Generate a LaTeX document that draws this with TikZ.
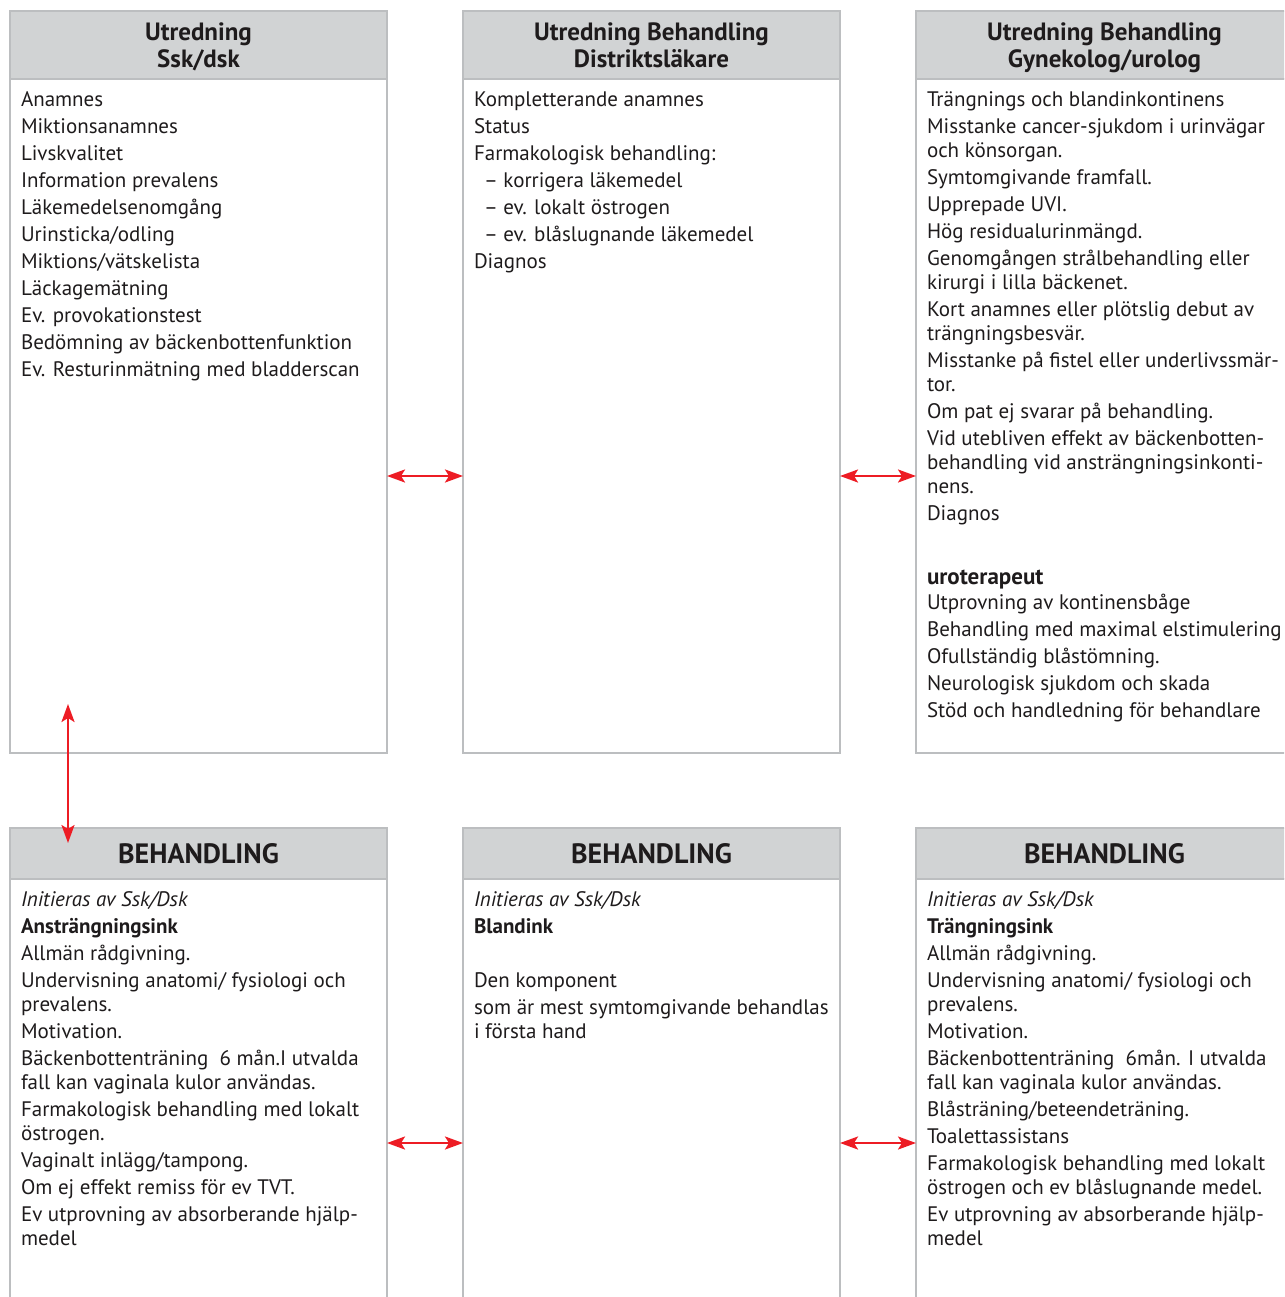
\documentclass[tikz,border=0pt]{standalone}
\usepackage{fontspec}
\setmainfont{PT Sans}
\usetikzlibrary{arrows.meta,positioning}
\definecolor{frame}{RGB}{188,190,192}
\definecolor{headfill}{RGB}{209,211,212}
\definecolor{redarrow}{RGB}{237,28,36}
\definecolor{ink}{RGB}{30,27,28}
\newcommand{\bodyfont}{\fontsize{21}{27}\selectfont}
\newcommand{\wrapnl}{\\[-3pt]}
\newcommand{\topbox}[1]{\parbox[t][657pt][t]{355pt}{\raggedright\strut #1}}
\newcommand{\lowbox}[1]{\parbox[t][500pt][t]{355pt}{\raggedright\strut #1}}

\begin{document}
\begin{tikzpicture}[x=1pt,y=1pt,
    node distance=76pt,
    hd/.style={rectangle,draw=frame,line width=1.3pt,fill=headfill,text=ink,outer sep=0pt,
               minimum width=377pt,minimum height=68pt,inner sep=0pt,align=center,
               text height=51pt,text depth=5pt,font=\bfseries\fontsize{25}{27}\selectfont},
    bhd/.style={hd,minimum height=51pt,text height=,text depth=,font=\bfseries\fontsize{28}{30}\selectfont},
    bd/.style={rectangle,draw=frame,line width=1.3pt,text=ink,outer sep=0pt,
               inner xsep=11pt,inner ysep=8.5pt,font=\bodyfont},
    ar/.style={{Stealth[length=18pt,width=13pt,inset=4pt]}-{Stealth[length=18pt,width=13pt,inset=4pt]},
               redarrow,line width=2.5pt}]
  \useasboundingbox (0,0) rectangle (1284,-1297);
  \clip (0,0) rectangle (1284,-1297);
  % utredning
  \node[hd,anchor=north west](u1) at (10,-11){Utredning\\Ssk/dsk};
  \node[hd,right=of u1](u2){Utredning Behandling\\Distriktsläkare};
  \node[hd,right=of u2](u3){Utredning Behandling\\Gynekolog/urolog};
  \node[bd,below=0pt of u1](t1){\topbox{Anamnes\\Miktionsanamnes\\Livskvalitet\\Information prevalens\\
    Läkemedelsenomgång\\Urinsticka/odling\\Miktions/vätskelista\\Läckagemätning\\
    Ev. provokationstest\\Bedömning av bäckenbottenfunktion\\Ev. Resturinmätning med bladderscan}};
  \node[bd,below=0pt of u2](t2){\topbox{Kompletterande anamnes\\Status\\Farmakologisk behandling:\\
    \hspace*{10pt}– korrigera läkemedel\\\hspace*{10pt}– ev. lokalt östrogen\\
    \hspace*{10pt}– ev. blåslugnande läkemedel\\Diagnos}};
  \node[bd,below=0pt of u3](t3){\topbox{Trängnings och blandinkontinens\\
    Misstanke cancer-sjukdom i urinvägar\wrapnl och könsorgan.\\
    Symtomgivande framfall.\\Upprepade UVI.\\Hög residualurinmängd.\\
    Genomgången strålbehandling eller\wrapnl kirurgi i lilla bäckenet.\\
    Kort anamnes eller plötslig debut av\wrapnl trängningsbesvär.\\
    Misstanke på fistel eller underlivssmär-\wrapnl tor.\\
    Om pat ej svarar på behandling.\\
    Vid utebliven effekt av bäckenbotten-\wrapnl behandling vid ansträngningsinkonti-\wrapnl nens.\\
    Diagnos\\[37pt]
    {\bfseries\fontsize{23}{27}\selectfont uroterapeut}\\[-2pt]
    Utprovning av kontinensbåge\\Behandling med maximal elstimulering\\
    Ofullständig blåstömning.\\Neurologisk sjukdom och skada\\Stöd och handledning för behandlare}};
  % behandling
  \node[bhd,anchor=north west](h1) at (10,-828){BEHANDLING};
  \node[bhd,right=of h1](h2){BEHANDLING};
  \node[bhd,right=of h2](h3){BEHANDLING};
  \node[bd,below=0pt of h1](b1){\lowbox{\itshape Initieras av Ssk/Dsk\upshape\\
    \textbf{Ansträngningsink}\\Allmän rådgivning.\\
    Undervisning anatomi/ fysiologi och\wrapnl prevalens.\\Motivation.\\
    Bäckenbottenträning\ \ 6 mån.I utvalda\wrapnl fall kan vaginala kulor användas.\\
    Farmakologisk behandling med lokalt\wrapnl östrogen.\\
    Vaginalt inlägg/tampong.\\Om ej effekt remiss för ev TVT.\\
    Ev utprovning av absorberande hjälp-\wrapnl medel}};
  \node[bd,below=0pt of h2](b2){\lowbox{\itshape Initieras av Ssk/Dsk\upshape\\
    \textbf{Blandink}\\[27pt]
    Den komponent\\som är mest symtomgivande behandlas\wrapnl i första hand}};
  \node[bd,below=0pt of h3](b3){\lowbox{\itshape Initieras av Ssk/Dsk\upshape\\
    \textbf{Trängningsink}\\Allmän rådgivning.\\
    Undervisning anatomi/ fysiologi och\wrapnl prevalens.\\Motivation.\\
    Bäckenbottenträning\ \ 6mån. I utvalda\wrapnl fall kan vaginala kulor användas.\\
    Blåsträning/beteendeträning.\\Toalettassistans\\
    Farmakologisk behandling med lokalt\wrapnl östrogen och ev blåslugnande medel.\\
    Ev utprovning av absorberande hjälp-\wrapnl medel}};
  % pilar
  \coordinate (ytop) at (0,-476);
  \coordinate (ylow) at (0,-1143);
  \coordinate (vtop) at (68,-704);
  \coordinate (vlow) at (68,-843);
  \draw[ar](t1.east |- ytop)--(t2.west |- ytop);
  \draw[ar](t2.east |- ytop)--(t3.west |- ytop);
  \draw[ar](b1.east |- ylow)--(b2.west |- ylow);
  \draw[ar](b2.east |- ylow)--(b3.west |- ylow);
  \draw[ar](vtop)--(vlow);
\end{tikzpicture}
\end{document}
